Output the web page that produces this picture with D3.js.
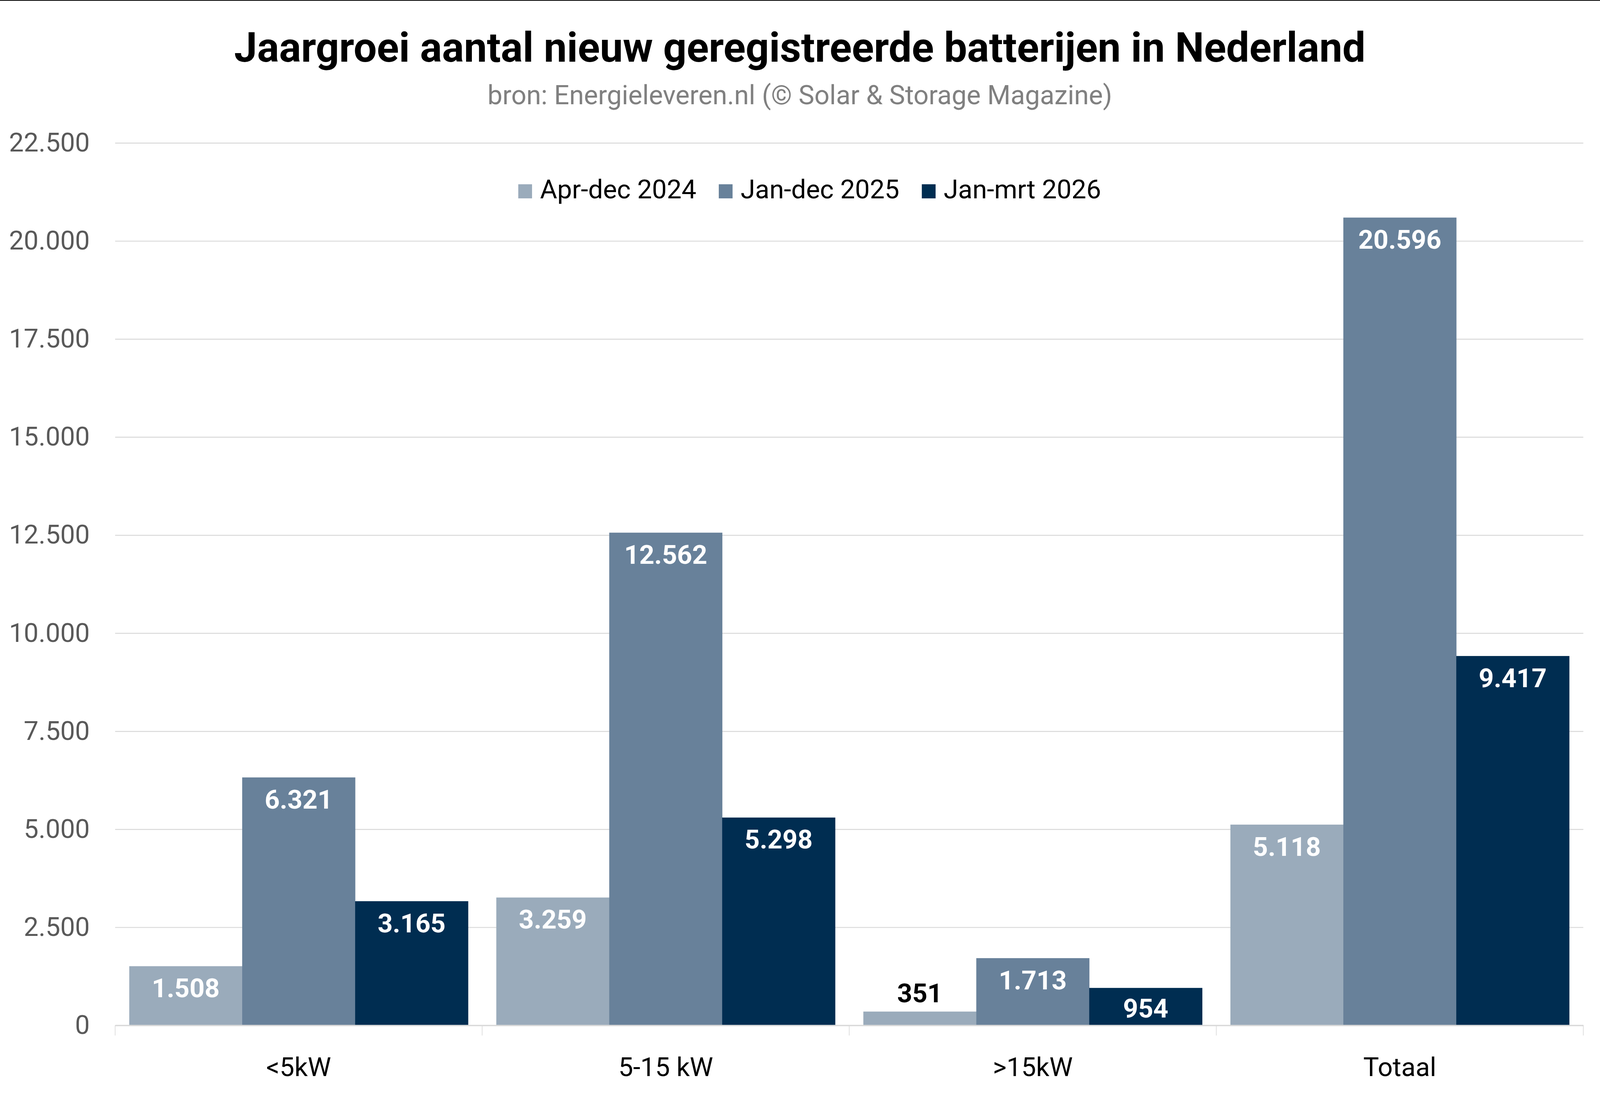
<!DOCTYPE html>
<html>
<head>
<meta charset="utf-8">
<script src="https://cdn.jsdelivr.net/npm/d3@7"></script>
<style>
  html, body { margin: 0; padding: 0; background: #fff; overflow: hidden; }
  svg { display: block; font-family: Roboto, "Noto Sans", sans-serif; }
</style>
</head>
<body>
<svg id="chart"></svg>
<script>
const categories = ['<5kW', '5-15 kW', '>15kW', 'Totaal']
const series = ['Apr-dec 2024', 'Jan-dec 2025', 'Jan-mrt 2026']
const aprDec2024 = [1508, 3259, 351, 5118]
const janDec2025 = [6321, 12562, 1713, 20596]
const janMrt2026 = [3165, 5298, 954, 9417]
const yTicks = [0, 2500, 5000, 7500, 10000, 12500, 15000, 17500, 20000, 22500]

const colors = ['#9aabbb', '#68819a', '#002d51']

// layout is designed on a 4989 x 2807 canvas and stretched to the real window
const baseW = 4989
const baseH = 2807
const width = window.innerWidth || baseW
const height = window.innerHeight || baseH
const sx = width / baseW
const sy = height / baseH
const X = v => v * sx
const Y = v => v * sy
const F = v => v * sx

const values = [aprDec2024, janDec2025, janMrt2026]
const rows = categories.map((c, i) => ({
  category: c,
  bars: series.map((s, j) => ({ series: s, value: values[j][i], color: colors[j] }))
}))

const nl = d3.formatLocale({ decimal: ',', thousands: '.', grouping: [3], currency: ['€', ''] })
const fmt = nl.format(',d')

const svg = d3.select('#chart').attr('width', width).attr('height', height)

// frame line at the top
svg.append('rect').attr('x', 0).attr('y', 0).attr('width', width).attr('height', Math.max(1, Y(2))).attr('fill', '#000')

const x0 = d3.scaleBand().domain(categories).range([X(359), X(4937)]).padding(0)
const x1 = d3.scaleBand().domain(series).range([0, x0.bandwidth()]).paddingInner(0).paddingOuter(0.125)
const y = d3.scaleLinear().domain([0, 22500]).range([Y(2626), Y(366)])

// gridlines
svg.append('g')
  .attr('transform', `translate(${X(359)},0)`)
  .call(d3.axisLeft(y).tickValues(yTicks).tickSize(-(X(4937) - X(359))).tickFormat(''))
  .call(g => g.select('.domain').remove())
  .call(g => g.selectAll('.tick line').attr('stroke', '#d9d9d9').attr('stroke-width', F(3)))

// y labels
svg.append('g')
  .attr('transform', `translate(${X(280)},0)`)
  .call(d3.axisLeft(y).tickValues(yTicks).tickSize(0).tickPadding(0).tickFormat(fmt))
  .call(g => g.select('.domain').remove())
  .call(g => g.selectAll('text')
    .attr('font-family', 'Roboto').attr('font-size', F(82)).attr('fill', '#595959'))

// bars
const groups = svg.append('g').selectAll('g.group').data(rows).enter()
  .append('g')
  .attr('class', 'group')
  .attr('transform', d => `translate(${x0(d.category)},0)`)

groups.selectAll('rect').data(d => d.bars).enter()
  .append('rect')
  .attr('x', d => x1(d.series))
  .attr('width', x1.bandwidth() + 0.5)
  .attr('y', d => y(d.value))
  .attr('height', d => y(0) - y(d.value))
  .attr('fill', d => d.color)

// data labels: inside the top of the bar, above it when the bar is too short
groups.selectAll('text.label').data(d => d.bars).enter()
  .append('text')
  .attr('class', 'label')
  .each(function (d) {
    let top = y(d.value)
    let h = y(0) - top
    let outside = h < F(60)
    let by = outside ? top - F(29) : Math.min(top + F(97), y(0) - F(24))
    d3.select(this)
      .attr('x', x1(d.series) + x1.bandwidth() / 2)
      .attr('y', by)
      .attr('fill', outside ? '#000' : '#fff')
      .text(fmt(d.value))
  })
  .attr('text-anchor', 'middle')
  .attr('font-size', F(82))
  .attr('font-weight', 'bold')

// x axis
svg.append('g')
  .attr('transform', `translate(0,${y(0)})`)
  .call(d3.axisBottom(x0).tickSize(0).tickPadding(0).tickFormat(''))
  .call(g => g.select('.domain').attr('stroke', '#d9d9d9').attr('stroke-width', F(4)))

const bounds = categories.map(c => x0(c)).concat([x0.range()[1]])
svg.append('g').selectAll('line').data(bounds).enter()
  .append('line')
  .attr('x1', d => d).attr('x2', d => d)
  .attr('y1', y(0)).attr('y2', y(0) + Y(26))
  .attr('stroke', '#d9d9d9').attr('stroke-width', F(2))

svg.append('g').selectAll('text.cat').data(categories).enter()
  .append('text')
  .attr('class', 'cat')
  .attr('x', d => x0(d) + x0.bandwidth() / 2)
  .attr('y', Y(2756))
  .attr('text-anchor', 'middle')
  .attr('font-size', F(82))
  .attr('fill', '#000')
  .text(d => d)

// title
svg.append('text')
  .attr('x', X(2494)).attr('y', Y(158))
  .attr('text-anchor', 'middle')
  .attr('font-size', F(128))
  .attr('font-weight', 'bold')
  .attr('fill', '#000')
  .text('Jaargroei aantal nieuw geregistreerde batterijen in Nederland')

svg.append('text')
  .attr('x', X(2494)).attr('y', Y(267))
  .attr('text-anchor', 'middle')
  .attr('font-size', F(83))
  .attr('fill', '#808080')
  .text('bron: Energieleveren.nl (© Solar & Storage Magazine)')

// legend
const legend = svg.append('g').attr('transform', `translate(${X(1616)},${Y(490)})`)
let lx = 0
series.forEach((s, j) => {
  let item = legend.append('g').attr('transform', `translate(${lx},0)`)
  item.append('rect').attr('x', 0).attr('y', -F(22)).attr('width', F(43)).attr('height', F(44)).attr('fill', colors[j])
  let t = item.append('text').attr('x', F(68)).attr('y', F(22))
    .attr('font-size', F(82)).attr('fill', '#000').text(s)
  lx += F(68) + t.node().getComputedTextLength() + F(70)
})
</script>
</body>
</html>
